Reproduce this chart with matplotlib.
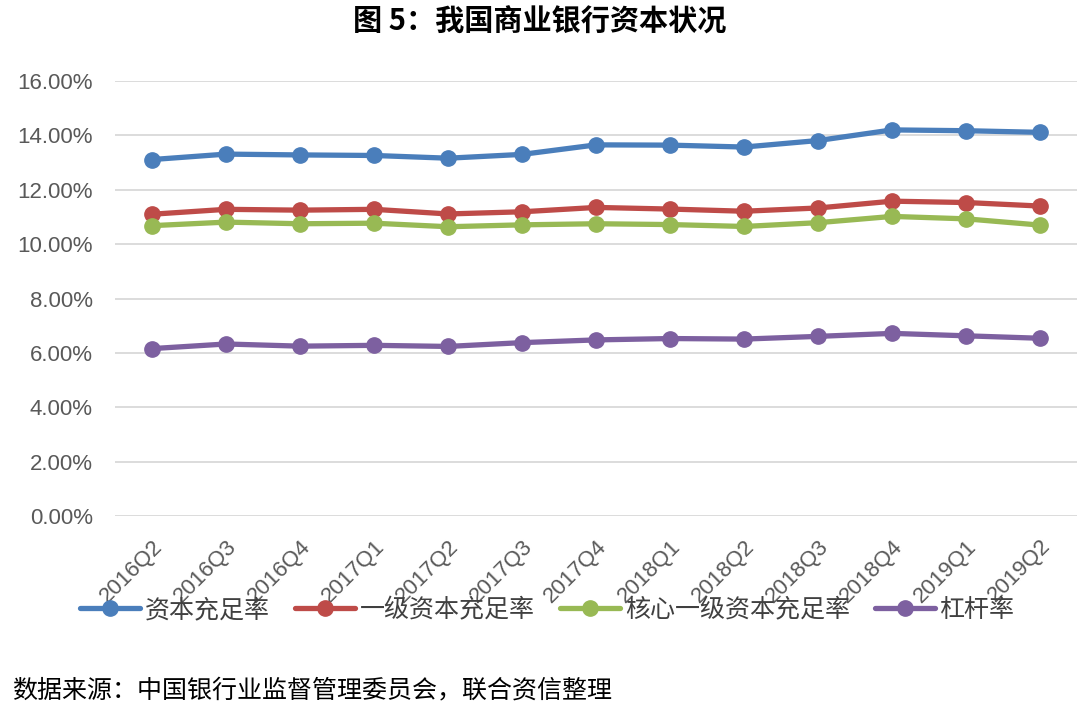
import matplotlib
matplotlib.use("Agg")
import matplotlib.pyplot as plt
from matplotlib.ticker import FuncFormatter

plt.rcParams['font.family'] = ['Noto Sans CJK SC', 'DejaVu Sans']

quarters = ['2016Q2', '2016Q3', '2016Q4', '2017Q1', '2017Q2', '2017Q3', '2017Q4',
            '2018Q1', '2018Q2', '2018Q3', '2018Q4', '2019Q1', '2019Q2']
car = [13.11, 13.31, 13.28, 13.26, 13.16, 13.30, 13.65, 13.64, 13.57, 13.81, 14.20, 14.17, 14.11]
tier1 = [11.10, 11.28, 11.25, 11.28, 11.11, 11.19, 11.35, 11.29, 11.21, 11.33, 11.58, 11.53, 11.40]
core_tier1 = [10.68, 10.81, 10.75, 10.77, 10.64, 10.71, 10.75, 10.72, 10.65, 10.79, 11.02, 10.93, 10.70]
leverage = [6.16, 6.33, 6.25, 6.28, 6.24, 6.38, 6.48, 6.53, 6.51, 6.61, 6.72, 6.63, 6.54]

series = [
    ('资本充足率', car, '#4a7ebb'),
    ('一级资本充足率', tier1, '#be4b48'),
    ('核心一级资本充足率', core_tier1, '#98b954'),
    ('杠杆率', leverage, '#7d60a0'),
]

fig = plt.figure(figsize=(10.8, 7.1), dpi=100)
ax = fig.add_axes([0.1065, 0.273, 0.891, 0.613])

x = list(range(len(quarters)))
for label, vals, color in series:
    ax.plot(x, vals, color=color, linewidth=3.8, marker='o', markersize=11,
            label=label, solid_capstyle='round')

ax.set_xlim(-0.5, len(quarters) - 0.5)
ax.set_ylim(0, 16)
ax.set_yticks(range(0, 17, 2))
ax.yaxis.set_major_formatter(FuncFormatter(lambda v, p: f'{v:.2f}%'))
ax.grid(axis='y', color='#d9d9d9', linewidth=1.3)
ax.set_axisbelow(True)
for s in ax.spines.values():
    s.set_visible(False)
ax.tick_params(axis='both', length=0, labelsize=16, labelcolor='#595959')
ax.tick_params(axis='y', pad=16)
ax.set_xticks(x)
ax.set_xticklabels(quarters, rotation=45, ha='right', rotation_mode='anchor',
                   family=['Liberation Sans', 'DejaVu Sans'])
for t in ax.get_yticklabels():
    t.set_family(['Liberation Sans', 'DejaVu Sans'])
ax.tick_params(axis='x', pad=14)

fig.legend(loc='center', bbox_to_anchor=(0.507, 0.141), ncol=4, frameon=False,
           fontsize=18, handlelength=2.4, columnspacing=1.0, handletextpad=0.2,
           labelcolor='#404040')

fig.text(0.5, 0.970, '图 5：我国商业银行资本状况', ha='center', va='center',
         fontsize=21, fontweight='bold')
fig.text(0.011, 0.028, '数据来源：中国银行业监督管理委员会，联合资信整理', ha='left',
         va='center', fontsize=18)

fig.savefig('out.png', dpi=100)
